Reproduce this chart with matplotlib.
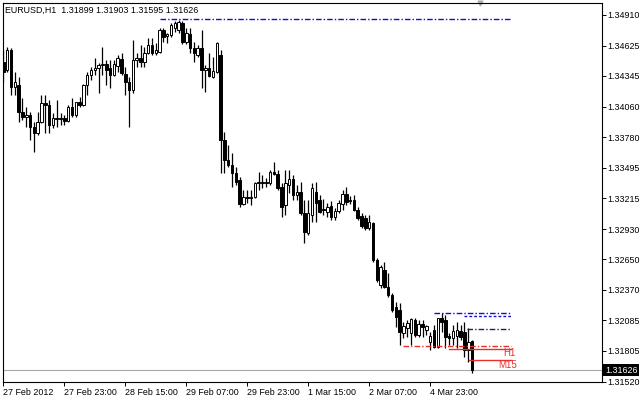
import matplotlib
matplotlib.use('Agg')
import matplotlib.pyplot as plt
import matplotlib.transforms as mtransforms

plt.rcParams['font.family'] = ['Liberation Sans', 'DejaVu Sans']

# EURUSD H1 candles
opens = [1.34474, 1.34401, 1.34586, 1.34243, 1.34262, 1.34012, 1.33966, 1.33985, 1.33873, 1.33818,
         1.33919, 1.34095, 1.34077, 1.33892, 1.33957, 1.33948, 1.33957, 1.33929, 1.34058, 1.33985,
         1.34104, 1.34077, 1.34262, 1.34355, 1.34401, 1.34419, 1.34447, 1.34456, 1.34419, 1.34355,
         1.34437, 1.34503, 1.34364, 1.34289, 1.34216, 1.34493, 1.34512, 1.34474, 1.34558, 1.34632,
         1.34558, 1.34567, 1.34771, 1.34715, 1.34725, 1.34789, 1.34771, 1.34835, 1.34659, 1.34734,
         1.34604, 1.34540, 1.34604, 1.34401, 1.34419, 1.34336, 1.34382, 1.34540, 1.33753, 1.33568,
         1.33522, 1.33448, 1.33383, 1.33161, 1.33226, 1.33217, 1.33226, 1.33355, 1.33364, 1.33355,
         1.33355, 1.33457, 1.33439, 1.33318, 1.33152, 1.33337, 1.33392, 1.33245, 1.33272, 1.33078,
         1.32893, 1.33060, 1.33272, 1.33198, 1.33115, 1.33087, 1.33142, 1.33041, 1.33097, 1.33161,
         1.33254, 1.33198, 1.33198, 1.33106, 1.33050, 1.33032, 1.32939, 1.32985, 1.32643, 1.32412,
         1.32551, 1.32393, 1.32320, 1.32208, 1.32181, 1.31968, 1.32014, 1.31968, 1.32088, 1.31950,
         1.32051, 1.31996, 1.31885, 1.31996, 1.31838, 1.32107, 1.32088, 1.31940, 1.31922, 1.31940,
         1.31987, 1.31977, 1.31811, 1.31899]
highs = [1.34586, 1.34613, 1.34604, 1.34382, 1.34336, 1.34142, 1.34058, 1.34012, 1.33919, 1.34012,
         1.34170, 1.34170, 1.34123, 1.34003, 1.34123, 1.34003, 1.33985, 1.34077, 1.34142, 1.34104,
         1.34151, 1.34271, 1.34382, 1.34428, 1.34512, 1.34465, 1.34613, 1.34493, 1.34493, 1.34493,
         1.34540, 1.34558, 1.34428, 1.34336, 1.34678, 1.34558, 1.34632, 1.34613, 1.34697, 1.34697,
         1.34650, 1.34789, 1.34789, 1.34743, 1.34835, 1.34854, 1.34863, 1.34854, 1.34789, 1.34789,
         1.34659, 1.34632, 1.34771, 1.34447, 1.34558, 1.34521, 1.34659, 1.34586, 1.33827, 1.33707,
         1.33633, 1.33503, 1.33411, 1.33291, 1.33291, 1.33291, 1.33364, 1.33457, 1.33430, 1.33402,
         1.33476, 1.33549, 1.33476, 1.33355, 1.33476, 1.33476, 1.33430, 1.33337, 1.33364, 1.33198,
         1.33198, 1.33355, 1.33364, 1.33245, 1.33208, 1.33170, 1.33189, 1.33124, 1.33198, 1.33291,
         1.33318, 1.33235, 1.33245, 1.33133, 1.33078, 1.33060, 1.33060, 1.32994, 1.32662, 1.32597,
         1.32624, 1.32523, 1.32338, 1.32254, 1.32245, 1.32069, 1.32088, 1.32107, 1.32107, 1.32088,
         1.32088, 1.32042, 1.31977, 1.32042, 1.32107, 1.32153, 1.32135, 1.31968, 1.32042, 1.32069,
         1.32042, 1.32069, 1.32014, 1.31903]
lows = [1.34289, 1.34382, 1.34170, 1.34170, 1.33919, 1.33938, 1.33873, 1.33753, 1.33642, 1.33800,
        1.33910, 1.33818, 1.33818, 1.33864, 1.33873, 1.33892, 1.33892, 1.33919, 1.33966, 1.33966,
        1.34058, 1.34067, 1.34170, 1.34308, 1.34355, 1.34188, 1.34355, 1.34262, 1.34234, 1.34345,
        1.34382, 1.34355, 1.34170, 1.33873, 1.34188, 1.34428, 1.34428, 1.34428, 1.34549, 1.34540,
        1.34540, 1.34558, 1.34659, 1.34650, 1.34706, 1.34752, 1.34743, 1.34641, 1.34641, 1.34558,
        1.34474, 1.34521, 1.34234, 1.34197, 1.34336, 1.34327, 1.34373, 1.33448, 1.33448, 1.33503,
        1.33318, 1.33337, 1.33133, 1.33152, 1.33170, 1.33152, 1.33217, 1.33291, 1.33309, 1.33318,
        1.33337, 1.33430, 1.33291, 1.33041, 1.33060, 1.33263, 1.33198, 1.33198, 1.33060, 1.32800,
        1.32875, 1.32994, 1.32994, 1.33078, 1.33060, 1.33041, 1.33013, 1.33013, 1.33078, 1.33106,
        1.33152, 1.33161, 1.33097, 1.33013, 1.32939, 1.32921, 1.32921, 1.32624, 1.32439, 1.32384,
        1.32384, 1.32301, 1.32162, 1.32023, 1.31857, 1.31922, 1.31931, 1.31857, 1.31931, 1.31931,
        1.31931, 1.31950, 1.31811, 1.31829, 1.31829, 1.31977, 1.31829, 1.31857, 1.31857, 1.31829,
        1.31903, 1.31746, 1.31700, 1.31595]
closes = [1.34382, 1.34586, 1.34243, 1.34289, 1.34012, 1.33966, 1.33985, 1.33873, 1.33818, 1.33919,
          1.34095, 1.34077, 1.33892, 1.33957, 1.33948, 1.33957, 1.33929, 1.34058, 1.33985, 1.34104,
          1.34077, 1.34262, 1.34355, 1.34401, 1.34419, 1.34447, 1.34456, 1.34401, 1.34355, 1.34456,
          1.34512, 1.34373, 1.34289, 1.34216, 1.34493, 1.34512, 1.34474, 1.34558, 1.34632, 1.34558,
          1.34586, 1.34771, 1.34706, 1.34734, 1.34817, 1.34835, 1.34844, 1.34659, 1.34743, 1.34604,
          1.34558, 1.34604, 1.34401, 1.34419, 1.34345, 1.34392, 1.34650, 1.33753, 1.33568, 1.33522,
          1.33448, 1.33364, 1.33161, 1.33226, 1.33217, 1.33226, 1.33355, 1.33364, 1.33355, 1.33364,
          1.33457, 1.33439, 1.33309, 1.33133, 1.33355, 1.33392, 1.33245, 1.33272, 1.33078, 1.32902,
          1.33078, 1.33309, 1.33170, 1.33087, 1.33106, 1.33133, 1.33041, 1.33097, 1.33170, 1.33254,
          1.33179, 1.33189, 1.33106, 1.33032, 1.32957, 1.32939, 1.32994, 1.32643, 1.32458, 1.32578,
          1.32393, 1.32320, 1.32181, 1.32116, 1.31977, 1.32032, 1.32060, 1.32098, 1.31950, 1.32051,
          1.32023, 1.32032, 1.31940, 1.31838, 1.32107, 1.32069, 1.31931, 1.31922, 1.31987, 1.31996,
          1.31931, 1.31811, 1.31885, 1.31626]

time_labels = ['27 Feb 2012', '27 Feb 23:00', '28 Feb 15:00', '29 Feb 07:00',
               '29 Feb 23:00', '1 Mar 15:00', '2 Mar 07:00', '4 Mar 23:00']
time_label_bars = [0, 16, 32, 48, 64, 80, 96, 112]
price_ticks = [1.34910, 1.34625, 1.34345, 1.34060, 1.33780, 1.33495, 1.33215,
               1.32930, 1.32650, 1.32370, 1.32085, 1.31805, 1.31520]
last_price = 1.31626

# horizontal levels drawn by indicators: price, first bar, last bar
level_prices = [1.34872, 1.32153, 1.32125, 1.32005, 1.31848, 1.31820, 1.31718]
level_start = [41.2, 113.1, 121.0, 121.8, 105.0, 117.0, 122.3]
level_end = [133.6, 133.1, 133.1, 133.1, 133.1, 133.1, 133.1]
level_colors = ['#1010c8', '#1010c8', '#1010c8', '#202060', '#e8302a', '#e8302a', '#e8302a']
level_styles = [(0, (4, 1.5, 1, 1.5)), (0, (4, 1.5, 1, 1.5)), (0, (2, 1.5)),
                (0, (4, 1.5, 1, 1.5)), (0, (4, 1.5, 1, 1.5)), '-', '-']

fig = plt.figure(figsize=(6.4, 3.99), dpi=100)
ax = fig.add_axes([3 / 640, 17.5 / 399, 599 / 640, 378.5 / 399])

xs = list(range(len(closes)))
ax.vlines(xs, lows, highs, color='black', linewidth=0.9, zorder=2)
bottoms = [min(o, c) for o, c in zip(opens, closes)]
heights = [abs(c - o) for o, c in zip(opens, closes)]
face = ['white' if c > o else 'black' for o, c in zip(opens, closes)]
ax.bar(xs, heights, bottom=bottoms, width=0.66, color=face,
       edgecolor='black', linewidth=0.7, zorder=3)

ax.axhline(last_price, color='#a8a8a8', linewidth=0.8, zorder=1)

for p, s, e, c, ls in zip(level_prices, level_start, level_end, level_colors, level_styles):
    ax.plot([s, e], [p, p], color=c, linestyle=ls, linewidth=1.0, zorder=4)

ax.text(131.2, 1.31783, 'H1', color='#e8302a', fontsize=7, va='center', ha='left')
ax.text(130.0, 1.31672, 'M15', color='#e8302a', fontsize=7, va='center', ha='left')

ax.set_xlim(-0.1, 157.1)
ax.set_ylim(1.3152, 1.3502)

ax.yaxis.tick_right()
ax.set_yticks(price_ticks)
ax.set_yticklabels(['%.5f' % v for v in price_ticks])
ax.set_xticks(time_label_bars)
ax.set_xticklabels(time_labels, ha='left')
ax.tick_params(axis='y', direction='out', length=3, width=0.7, pad=1, labelsize=6.4)
ax.tick_params(axis='x', direction='out', length=3, width=0.7, pad=1.5, labelsize=6.4)
for sp in ax.spines.values():
    sp.set_linewidth(0.8)
    sp.set_color('black')

trans = mtransforms.blended_transform_factory(ax.transAxes, ax.transData)
ax.text(1.0 + 3 / 599, last_price, '%.5f' % last_price, transform=trans, color='white',
        fontsize=6.4, va='center', ha='left',
        bbox=dict(facecolor='black', edgecolor='none', pad=1.2))
ax.plot([125.2], [1.3502], marker='v', color='#b0b0b0', markersize=3.5, clip_on=False)

fig.text(5 / 640, 1 - 10 / 399, 'EURUSD,H1  1.31899 1.31903 1.31595 1.31626',
         fontsize=6.4, va='center', ha='left')

fig.savefig('out.png', dpi=100)
